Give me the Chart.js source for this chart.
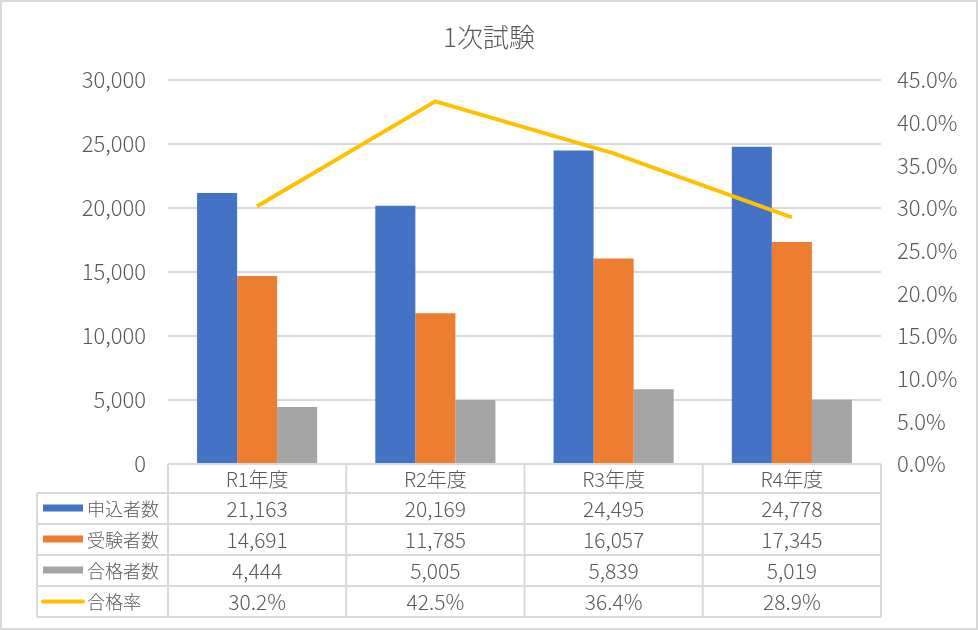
<!DOCTYPE html>
<html>
<head>
<meta charset="utf-8">
<script src="https://cdn.jsdelivr.net/npm/chart.js@4/dist/chart.umd.min.js"></script>
<style>
  html, body { margin: 0; padding: 0; background: #fff; }
  #wrap { width: 978px; height: 630px; position: relative; }
</style>
</head>
<body>
<div id="wrap"><canvas id="c"></canvas></div>
<script>
const TITLE = '1次試験';
const categories = ['R1年度', 'R2年度', 'R3年度', 'R4年度'];
const applicants = [21163, 20169, 24495, 24778];
const examinees = [14691, 11785, 16057, 17345];
const passers = [4444, 5005, 5839, 5019];
const passRate = [0.302, 0.425, 0.364, 0.289];

const FONT = '"Noto Sans CJK JP", "Noto Sans", sans-serif';
const W = '300 ';
const TEXT = '#595959';
const GRID = '#d9d9d9';

const series = [
  { label: '申込者数', data: applicants, color: '#4472C4', fmt: (v) => v.toLocaleString('en-US') },
  { label: '受験者数', data: examinees, color: '#ED7D31', fmt: (v) => v.toLocaleString('en-US') },
  { label: '合格者数', data: passers, color: '#A5A5A5', fmt: (v) => v.toLocaleString('en-US') },
  { label: '合格率', data: passRate, color: '#FFC000', fmt: (v) => (v * 100).toFixed(1) + '%', line: true },
];

// draws title, outer frame and the data table under the plot
const tablePlugin = {
  id: 'dataTable',
  afterDraw(chart) {
    const { ctx, chartArea, scales } = chart;
    const x = scales.x;
    const half = (x.getPixelForValue(1) - x.getPixelForValue(0)) / 2;
    const top = chartArea.bottom;
    const headH = 29;
    const rowH = 31;
    const keyLeft = 37;
    ctx.save();

    // outer frame
    ctx.strokeStyle = GRID;
    ctx.lineWidth = 2;
    ctx.strokeRect(1, 1, chart.width - 2, chart.height - 2);

    // title
    ctx.fillStyle = TEXT;
    ctx.font = W + '26px ' + FONT;
    ctx.textAlign = 'center';
    ctx.textBaseline = 'middle';
    ctx.fillText(TITLE, chart.width / 2, 37);

    // grid of the table
    ctx.strokeStyle = GRID;
    ctx.lineWidth = 2;
    const bottom = top + headH + rowH * series.length;
    ctx.beginPath();
    ctx.moveTo(chartArea.left, top);
    ctx.lineTo(chartArea.right, top);
    for (let r = 0; r <= series.length; r++) {
      const yy = top + headH + rowH * r;
      ctx.moveTo(keyLeft, yy);
      ctx.lineTo(chartArea.right, yy);
    }
    ctx.moveTo(keyLeft, top + headH);
    ctx.lineTo(keyLeft, bottom);
    ctx.moveTo(chartArea.left, top);
    ctx.lineTo(chartArea.left, bottom);
    categories.forEach((c, i) => {
      const xr = x.getPixelForValue(i) + half;
      ctx.moveTo(xr, top);
      ctx.lineTo(xr, bottom);
    });
    ctx.stroke();

    // header
    ctx.fillStyle = TEXT;
    ctx.font = W + '20px ' + FONT;
    ctx.textAlign = 'center';
    categories.forEach((c, i) => {
      ctx.fillText(c, x.getPixelForValue(i), top + headH / 2 + 1);
    });

    // rows
    series.forEach((s, r) => {
      const cy = top + headH + rowH * r + rowH / 2 + 1;
      if (s.line) {
        ctx.strokeStyle = s.color;
        ctx.lineWidth = 4;
        ctx.lineCap = 'round';
        ctx.beginPath();
        ctx.moveTo(43, cy - 1);
        ctx.lineTo(83, cy - 1);
        ctx.stroke();
      } else {
        ctx.fillStyle = s.color;
        ctx.fillRect(43, cy - 5, 40, 7);
      }
      ctx.fillStyle = TEXT;
      ctx.font = W + '18px ' + FONT;
      ctx.textAlign = 'left';
      ctx.fillText(s.label, 87, cy);
      ctx.font = W + '21px ' + FONT;
      ctx.textAlign = 'center';
      s.data.forEach((v, i) => {
        ctx.fillText(s.fmt(v), x.getPixelForValue(i), cy);
      });
    });
    ctx.restore();
  },
};

const datasets = series.map((s) => s.line ? {
  type: 'line',
  label: s.label,
  data: s.data,
  yAxisID: 'y1',
  borderColor: s.color,
  backgroundColor: s.color,
  borderWidth: 4,
  pointRadius: 0,
  tension: 0,
  order: 0,
} : {
  type: 'bar',
  label: s.label,
  data: s.data,
  yAxisID: 'y',
  backgroundColor: s.color,
  borderWidth: 0,
  categoryPercentage: 0.674,
  barPercentage: 1,
  order: 1,
});

new Chart(document.getElementById('c'), {
  type: 'bar',
  data: { labels: categories, datasets },
  plugins: [tablePlugin],
  options: {
    responsive: true,
    maintainAspectRatio: false,
    animation: false,
    layout: { padding: { left: 0, right: 0, top: 80, bottom: 166 } },
    plugins: {
      legend: { display: false },
      title: { display: false },
      tooltip: { enabled: false },
    },
    scales: {
      x: { display: false },
      y: {
        position: 'left',
        min: 0,
        max: 30000,
        afterFit: (s) => { s.width = 168; },
        border: { display: false },
        grid: { color: GRID, lineWidth: 2, drawTicks: false },
        ticks: {
          stepSize: 5000,
          padding: 22,
          color: TEXT,
          font: { family: FONT, size: 22, weight: '300' },
          callback: (v) => v.toLocaleString('en-US'),
        },
      },
      y1: {
        position: 'right',
        min: 0,
        max: 0.45,
        afterFit: (s) => { s.width = 97; },
        border: { display: false },
        grid: { display: false, drawTicks: false },
        ticks: {
          stepSize: 0.05,
          padding: 16,
          color: TEXT,
          font: { family: FONT, size: 22, weight: '300' },
          callback: (v) => (v * 100).toFixed(1) + '%',
        },
      },
    },
  },
});
</script>
</body>
</html>
